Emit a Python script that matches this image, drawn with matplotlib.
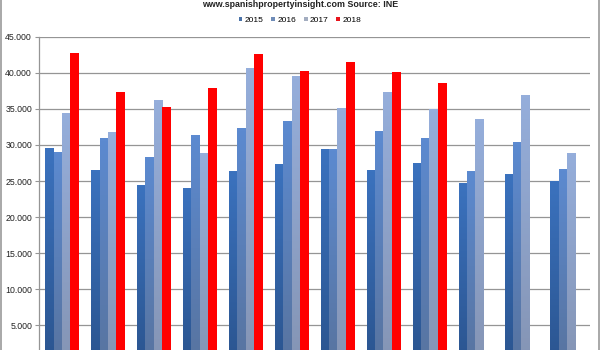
import numpy as np
import matplotlib
matplotlib.use("Agg")
import matplotlib.pyplot as plt
from matplotlib.patches import Patch, Rectangle
from matplotlib.colors import LinearSegmentedColormap
from matplotlib.ticker import FuncFormatter

plt.rcParams['font.family'] = ['Liberation Sans', 'DejaVu Sans']

months = ["Jan", "Feb", "Mar", "Apr", "May", "Jun", "Jul", "Aug", "Sep", "Oct", "Nov", "Dec"]
years = ["2015", "2016", "2017", "2018"]
v2015 = [29625, 26490, 24410, 23990, 26440, 27410, 29490, 26580, 27550, 24780, 25980, 24960]
v2016 = [29030, 30960, 28380, 31380, 32400, 33370, 29490, 31930, 30960, 26350, 30460, 26720]
v2017 = [34470, 31800, 36270, 28840, 40610, 39550, 35070, 37380, 34940, 33600, 36870, 28890]
v2018 = [42740, 37380, 35300, 37840, 42600, 40290, 41490, 40150, 38630, np.nan, np.nan, np.nan]
yticks = [5000, 10000, 15000, 20000, 25000, 30000, 35000, 40000, 45000]

series = [v2015, v2016, v2017, v2018]
grad_top = ["#3b72be", "#5c8ad0", "#95aedb", "#ff0000"]
grad_bot = ["#2b5590", "#5874a0", "#8595b5", "#ff0000"]
legend_cols = ["#4a72a8", "#6f8cb8", "#a3adc0", "#e8141c"]

fig = plt.figure(figsize=(6, 3.5), dpi=100)
ax = fig.add_axes([39/600, 0.0, (590-39)/600, 1 - 36.7/350])

x = np.arange(len(months))
w = 0.181
for i, vals in enumerate(series):
    bars = ax.bar(x + (i - 1.5) * w, vals, width=w, color="none", edgecolor="none", zorder=3)
    cmap = LinearSegmentedColormap.from_list("g%d" % i, [grad_bot[i], grad_top[i]])
    for p in bars:
        h = p.get_height()
        if not np.isfinite(h) or h <= 0:
            continue
        x0 = p.get_x()
        grad = np.linspace(1, 0, 64).reshape(-1, 1)
        im = ax.imshow(grad, cmap=cmap, vmin=0, vmax=1, aspect='auto',
                       extent=[x0, x0 + p.get_width(), 0, h], zorder=3,
                       interpolation='bilinear')
        im.set_clip_path(p)

ax.set_xlim(-0.5, len(months) - 0.5)
ax.set_ylim(1600, 45000)
ax.set_yticks(yticks)
ax.yaxis.set_major_formatter(FuncFormatter(lambda v, p: f"{int(v):,}".replace(",", ".")))
ax.set_xticks([])
ax.grid(axis='y', color='#959595', linewidth=0.9, zorder=0)
ax.set_axisbelow(True)
for s in ['top', 'right', 'bottom']:
    ax.spines[s].set_visible(False)
ax.spines['left'].set_color('#959595')
ax.spines['left'].set_linewidth(0.9)
ax.tick_params(axis='y', length=3, color='#959595', labelsize=6.3, labelcolor='#222222', pad=2)

handles = [Patch(facecolor=c, edgecolor='none') for c in legend_cols]
fig.legend(handles, years, loc='center', bbox_to_anchor=(0.5, 1 - 20.5/350), ncol=4,
           frameon=False, fontsize=6.0, handlelength=0.45, handleheight=0.45,
           handletextpad=0.3, columnspacing=0.9, borderpad=0)

fig.text(0.5, 1 - 7/350, "www.spanishpropertyinsight.com Source: INE", ha='center',
         va='baseline', fontsize=6.4, color='#222222', fontweight='bold')

fig.patches.append(Rectangle((0.5/600, -0.01), 598/600, 1.05, transform=fig.transFigure,
                             fill=False, edgecolor='#9a9a9a', linewidth=1.2))

fig.savefig("out.png", dpi=100)
